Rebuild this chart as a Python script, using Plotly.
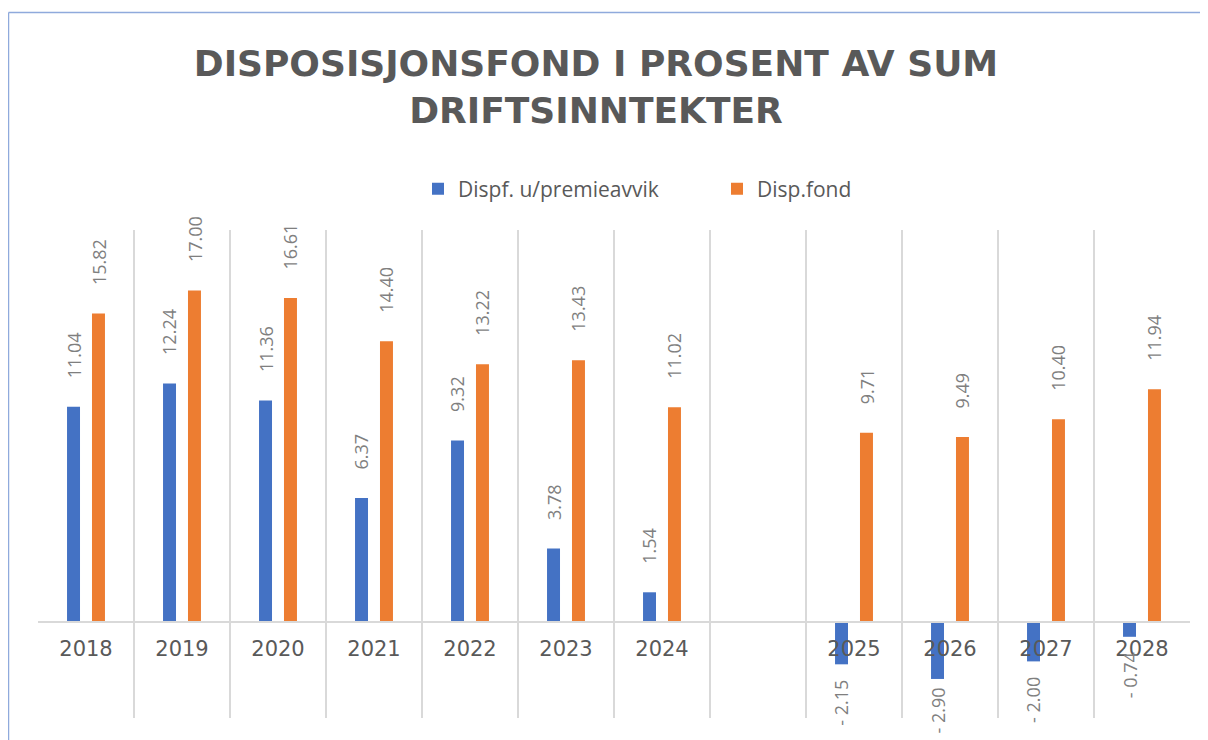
import plotly.graph_objects as go

# ---- data ----
categories = ["2018", "2019", "2020", "2021", "2022", "2023", "2024", " ",
              "2025", "2026", "2027", "2028"]
dispf_u_premieavvik = [11.04, 12.24, 11.36, 6.37, 9.32, 3.78, 1.54, None,
                       -2.15, -2.90, -2.00, -0.74]
disp_fond = [15.82, 17.00, 16.61, 14.40, 13.22, 13.43, 11.02, None,
             9.71, 9.49, 10.40, 11.94]
series_names = ["Dispf. u/premieavvik", "Disp.fond"]
series_colors = ["#4472C4", "#ED7D31"]
title_text = "DISPOSISJONSFOND I PROSENT AV SUM<br>DRIFTSINNTEKTER"

Y_MIN, Y_MAX = -4.9, 20.1
OFF = 8                      # page body margin of the html page
W, H = 1208 - OFF, 740 - OFF
ML, MR, MT, MB = 38 - OFF, 18, 230 - OFF, 22
PW, PH = W - ML - MR, H - MT - MB
LABEL_LEN = 49               # approx. length of a rotated negative label, px


def fmt(v):
    return f"{v:.2f}" if v >= 0 else f"- {abs(v):.2f}"


fig = go.Figure()
all_series = [dispf_u_premieavvik, disp_fond]
for name, vals, col in zip(series_names, all_series, series_colors):
    fig.add_trace(go.Bar(x=categories, y=vals, name=name,
                         marker=dict(color=col, line=dict(width=0))))

annotations = []
shifts = [-12.5, 12.5]
for vals, xs in zip(all_series, shifts):
    for i, v in enumerate(vals):
        if v is None:
            continue
        pos = v >= 0
        if pos:
            ys = 26
        else:
            # keep the label inside the chart frame (as the source does)
            room = PH * (v - Y_MIN) / (Y_MAX - Y_MIN) + MB - 5 - LABEL_LEN
            ys = -max(0, min(14, room))
        annotations.append(dict(
            x=i, y=v, xref="x", yref="y", text=fmt(v), textangle=-90,
            showarrow=False, xshift=xs,
            yanchor="bottom" if pos else "top",
            yshift=ys,
            font=dict(family="Open Sans", size=18, color="#7F7F7F")))

zero_pos = (0 - Y_MIN) / (Y_MAX - Y_MIN)

frame_col = "#8FAADC"
top_y = (PH + MT - (12.5 - OFF)) / PH
left_x = ((8.5 - OFF) - ML) / PW
shapes = [
    dict(type="line", xref="paper", yref="paper",
         x0=left_x, x1=left_x, y0=top_y, y1=-(MB + 5) / PH,
         line=dict(color=frame_col, width=1.5)),
    dict(type="line", xref="paper", yref="paper",
         x0=left_x, x1=(W + 5 - ML) / PW, y0=top_y, y1=top_y,
         line=dict(color=frame_col, width=1.5)),
]

fig.update_layout(
    width=W, height=H, autosize=False,
    margin=dict(l=ML, r=MR, t=MT, b=MB),
    paper_bgcolor="white", plot_bgcolor="white",
    barmode="group", bargap=0.48, bargroupgap=0.48,
    title=dict(text=title_text, x=(596 - OFF) / W, xanchor="center",
               y=1 - (76 - OFF) / H, yanchor="middle",
               font=dict(family="DejaVu Sans", size=36, color="#595959",
                         weight="bold")),
    legend=dict(orientation="h", x=(418 - 38) / PW, xanchor="left",
                y=1 + (230 - 189) / PH, yanchor="middle",
                entrywidth=254, entrywidthmode="pixels",
                font=dict(family="Open Sans", size=21, color="#595959"),
                bgcolor="rgba(0,0,0,0)"),
    xaxis=dict(type="category", categoryorder="array", categoryarray=categories,
               range=[-0.5, len(categories) - 0.5], autorange=False,
               tickson="boundaries", showgrid=True, gridcolor="#D9D9D9",
               gridwidth=1.5, anchor="free", position=zero_pos,
               showline=True, linecolor="#D9D9D9", linewidth=2,
               ticks="", ticklabelstandoff=7,
               tickfont=dict(family="DejaVu Sans", size=21, color="#595959")),
    yaxis=dict(range=[Y_MIN, Y_MAX], autorange=False, showgrid=False,
               zeroline=False, showticklabels=False, showline=False, ticks=""),
    annotations=annotations,
    shapes=shapes,
    showlegend=True,
)

fig.write_html("out.html")
